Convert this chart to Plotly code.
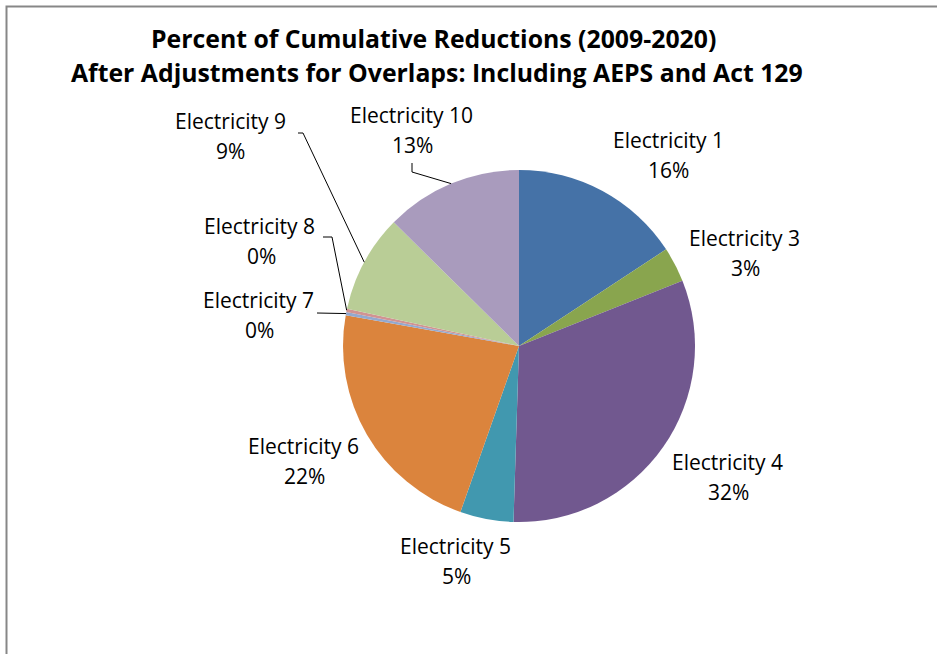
import math
import plotly.graph_objects as go

# ---- data ----
categories = ["Electricity 1", "Electricity 3", "Electricity 4", "Electricity 5",
              "Electricity 6", "Electricity 7", "Electricity 8", "Electricity 9",
              "Electricity 10"]
values = [15.75, 3.2, 31.55, 4.9, 22.4, 0.3, 0.3, 9.0, 12.6]
colors = ["#4572A7", "#89A54E", "#71588F", "#4198AF", "#DB843D",
          "#93A9CF", "#D19392", "#B9CD96", "#A99BBD"]
title_lines = ["Percent of Cumulative Reductions (2009-2020)",
               "After Adjustments for Overlaps: Including AEPS and Act 129"]

# ---- layout (pixels) ----
W, H = 937, 654
L, R, T, B = 343, 242, 170, 132
PW, PH = W - L - R, H - T - B
FONT = "Open Sans"

def px(X):
    return (X - L) / PW

def py(Y):
    return (H - B - Y) / PH

# label name/percent line centres (pixels)
label_pos = {
    "Electricity 1": ((668, 140), (668, 170)),
    "Electricity 3": ((744, 238), (745, 268)),
    "Electricity 4": ((727, 462), (728, 492)),
    "Electricity 5": ((455, 546), (456, 576)),
    "Electricity 6": ((303, 446), (304, 476)),
    "Electricity 7": ((258, 300), (259, 330)),
    "Electricity 8": ((259, 226), (261, 256)),
    "Electricity 9": ((230, 121), (230, 151)),
    "Electricity 10": ((411, 115), (412, 145)),
}
# leader-line tails (pixels), the head is the slice edge at mid-angle
leader_tail = {
    "Electricity 7": [(317, 313)],
    "Electricity 8": [(323, 237), (332, 237)],
    "Electricity 9": [(298, 133), (303, 133)],
    "Electricity 10": [(412, 163), (412, 172)],
}

total = sum(values)
fig = go.Figure(go.Pie(
    labels=categories, values=values, sort=False, direction="clockwise",
    rotation=0, marker=dict(colors=colors, line=dict(width=0)),
    textinfo="none", hoverinfo="label+percent", showlegend=False,
))

annotations = []
shapes = []
cum = 0.0
for name, v in zip(categories, values):
    mid = (cum + v / 2) / total * 2 * math.pi
    cum += v
    pct = f"{round(v / total * 100)}%"
    (nx, ny), (qx, qy) = label_pos[name]
    for txt, (x, y) in ((name, (nx, ny)), (pct, (qx, qy))):
        annotations.append(dict(x=px(x), y=py(y), xref="paper", yref="paper",
                                text=txt, showarrow=False, xanchor="center",
                                yanchor="middle",
                                font=dict(family=FONT, size=21, color="#000")))
    if name in leader_tail:
        hx = 0.5 + 0.5 * math.sin(mid)
        hy = 0.5 + 0.5 * math.cos(mid)
        pts = [(px(a), py(b)) for a, b in leader_tail[name]] + [(hx, hy)]
        path = "M " + " L ".join(f"{a},{b}" for a, b in pts)
        shapes.append(dict(type="path", path=path, xref="paper", yref="paper",
                           line=dict(color="#000", width=1)))

for txt, (x, y) in zip(title_lines, [(433, 38), (437, 72)]):
    annotations.append(dict(x=px(x), y=py(y), xref="paper", yref="paper",
                            text=f"<b>{txt}</b>", showarrow=False,
                            xanchor="center", yanchor="middle",
                            font=dict(family=FONT, size=24.8, color="#000")))

# chart frame (top and left edges visible)
shapes.append(dict(type="path", xref="paper", yref="paper",
                   path=f"M {px(6.5)},{py(700)} L {px(6.5)},{py(6.5)} L {px(960)},{py(6.5)}",
                   line=dict(color="#878787", width=2)))

fig.update_layout(width=W, height=H, margin=dict(l=L, r=R, t=T, b=B),
                  paper_bgcolor="white", plot_bgcolor="white",
                  annotations=annotations, shapes=shapes)
fig.write_html("out.html", config={"displayModeBar": False},
               post_script="document.body.style.margin='0';document.body.style.overflow='hidden';")
